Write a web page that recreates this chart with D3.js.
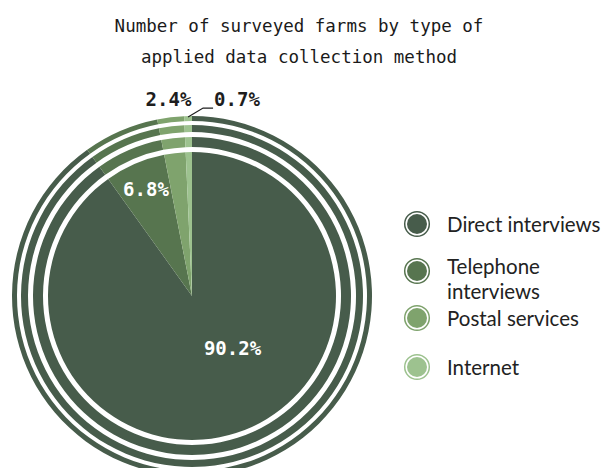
<!DOCTYPE html>
<html>
<head>
<meta charset="utf-8">
<script src="https://cdn.jsdelivr.net/npm/d3@7"></script>
<style>
  body { margin: 0; background: #fff; }
</style>
</head>
<body>
<div id="chart"></div>
<script>
const categories = ['Direct interviews', 'Telephone interviews', 'Postal services', 'Internet'];
const legendLines = [['Direct interviews'], ['Telephone', 'interviews'], ['Postal services'], ['Internet']];
const values = [90.2, 6.8, 2.4, 0.7];
const valueLabels = ['90.2%', '6.8%', '2.4%', '0.7%'];
const titleLines = ['Number of surveyed farms by type of', 'applied data collection method'];

const colors = ['#475c4b', '#57754f', '#7fa36d', '#9dc28f'];

const svgWidth = 611;
const svgHeight = 468;
const cx = 192, cy = 296;

const svg = d3.select('#chart')
    .append('svg')
    .attr('width', svgWidth)
    .attr('height', svgHeight);

// title
svg.append('g')
    .selectAll('text')
    .data(titleLines)
    .enter().append('text')
    .attr('x', 299)
    .attr('y', (d, i) => 32 + i * 31)
    .attr('text-anchor', 'middle')
    .style('font-family', 'DejaVu Sans Mono')
    .style('font-size', '17.5px')
    .style('fill', '#1a1a1a')
    .text(d => d);

const pie = d3.pie().sort(null).value(d => d);
const arcs = pie(values);

// the pie plus three concentric rings, split by white gaps
const bands = [[0, 144], [149, 159], [164, 171], [175, 180]];

const g = svg.append('g')
    .attr('transform', 'translate(' + cx + ',' + cy + ')');

bands.forEach(b => {
    const arc = d3.arc().innerRadius(b[0]).outerRadius(b[1]);
    g.append('g')
        .selectAll('path')
        .data(arcs)
        .enter().append('path')
        .attr('d', arc)
        .attr('fill', (d, i) => colors[i]);
});

// labels
const labelRadius = [66, 116, 198, 0];
const labelAngleShift = [-0.35, 0, 0, 0];
const labelColors = ['#fff', '#fff', '#1e1e1e', '#1e1e1e'];

arcs.forEach((d, i) => {
    if (i === 3) return;
    const a = (d.startAngle + d.endAngle) / 2 + labelAngleShift[i];
    const r = labelRadius[i];
    g.append('text')
        .attr('x', r * Math.sin(a))
        .attr('y', -r * Math.cos(a))
        .attr('dy', '0.36em')
        .attr('text-anchor', 'middle')
        .style('font-family', 'DejaVu Sans Mono')
        .style('font-size', '19px')
        .style('font-weight', 'bold')
        .style('fill', labelColors[i])
        .text(valueLabels[i]);
});

// leader line for the smallest slice
const last = arcs[3];
const la = (last.startAngle + last.endAngle) / 2;
const p0 = [179 * Math.sin(la), -179 * Math.cos(la)];
const p1 = [p0[0] + 15, p0[1] - 9];
const p2 = [p1[0] + 10, p1[1]];
g.append('polyline')
    .attr('points', [p0, p1, p2].map(p => p.join(',')).join(' '))
    .attr('fill', 'none')
    .attr('stroke', '#1e1e1e')
    .attr('stroke-width', 1.2);
g.append('text')
    .attr('x', p2[0] + 1)
    .attr('y', p2[1] - 2)
    .style('font-family', 'DejaVu Sans Mono')
    .style('font-size', '19px')
    .style('font-weight', 'bold')
    .style('fill', '#1e1e1e')
    .text(valueLabels[3]);

// legend
const legendY = [224, 271, 318, 367];
const legend = svg.append('g');

categories.forEach((c, i) => {
    const item = legend.append('g')
        .attr('transform', 'translate(417,' + legendY[i] + ')');
    item.append('circle')
        .attr('r', 12.3)
        .attr('fill', '#fff')
        .attr('stroke', colors[i])
        .attr('stroke-width', 1.5);
    item.append('circle')
        .attr('r', 10)
        .attr('fill', colors[i]);
    const lines = legendLines[i];
    item.selectAll('text')
        .data(lines)
        .enter().append('text')
        .attr('x', 30)
        .attr('y', (d, j) => (lines.length === 1 ? 8 : 3) + j * 24.5)
        .style('font-family', 'Lato')
        .style('font-size', '20.5px')
        .style('fill', '#222')
        .text(d => d);
});
</script>
</body>
</html>
